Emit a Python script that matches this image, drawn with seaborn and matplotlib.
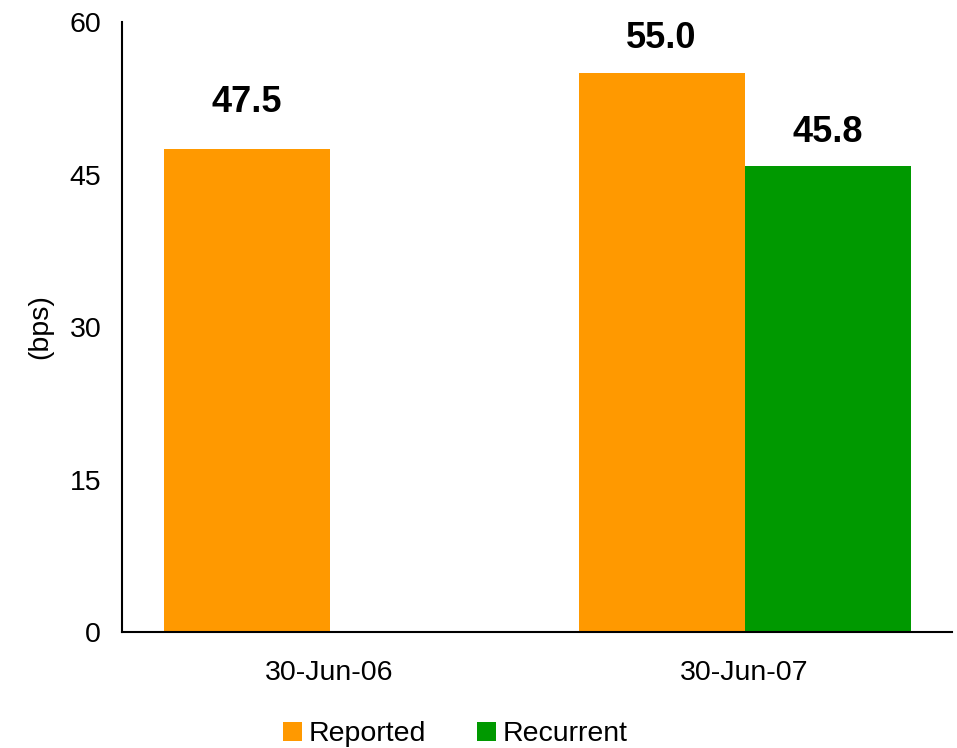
import matplotlib
matplotlib.use("Agg")
import matplotlib.pyplot as plt
import seaborn as sns
import pandas as pd
import numpy as np

# Data
dates = ["30-Jun-06", "30-Jun-07"]
reported = [47.5, 55.0]
recurrent = [np.nan, 45.8]
series_names = ["Reported", "Recurrent"]
y_ticks = [0, 15, 30, 45, 60]

df = pd.DataFrame({
    "date": dates * 2,
    "series": [series_names[0]] * 2 + [series_names[1]] * 2,
    "value": reported + recurrent,
})

sns.set_style("white")
plt.rcParams["font.family"] = ["Liberation Sans", "DejaVu Sans"]
plt.rcParams["text.color"] = "black"
plt.rcParams["xtick.color"] = "black"
plt.rcParams["ytick.color"] = "black"
plt.rcParams["axes.labelcolor"] = "black"

fig = plt.figure(figsize=(9.57, 7.48), dpi=100)
ax = fig.add_axes([0.1275, 0.155, 0.8673, 0.8156])

palette = {"Reported": "#FF9900", "Recurrent": "#009900"}
sns.barplot(data=df, x="date", y="value", hue="series", order=dates,
            hue_order=series_names, palette=palette, width=0.8,
            saturation=1, linewidth=0, ax=ax, legend=True)

ax.set_ylim(0, 60)
ax.set_yticks(y_ticks)
ax.set_xlim(-0.5, 1.5)
ax.tick_params(axis="both", length=0, labelsize=20.5)
ax.tick_params(axis="y", pad=15)
ax.tick_params(axis="x", pad=20)
ax.set_xlabel("")
ax.set_ylabel("(bps)", fontsize=20.5, labelpad=12)

for side in ["top", "right"]:
    ax.spines[side].set_visible(False)
for side in ["left", "bottom"]:
    ax.spines[side].set_color("black")
    ax.spines[side].set_linewidth(1.5)

# Value labels above bars (offset in points, per series and date)
label_offsets = {"Reported": [21, 12], "Recurrent": [12, 12]}
for container, name in zip(ax.containers, series_names):
    for bar in container:
        h = bar.get_height()
        if np.isnan(h):
            continue
        cx = bar.get_x() + bar.get_width() / 2
        idx = int(round(cx))
        ax.annotate(f"{h:.1f}", (cx, h),
                    xytext=(0, label_offsets[name][idx]), textcoords="offset points",
                    ha="center", va="bottom", fontsize=26, fontweight="bold",
                    color="black")

leg = ax.legend(loc="lower center", bbox_to_anchor=(0.476, -0.014),
                bbox_transform=fig.transFigure, ncol=2, frameon=False,
                fontsize=20.5, handlelength=0.65, handleheight=0.65,
                handletextpad=0.25, columnspacing=1.8, borderaxespad=0.0)

fig.savefig("out.png", dpi=100)
